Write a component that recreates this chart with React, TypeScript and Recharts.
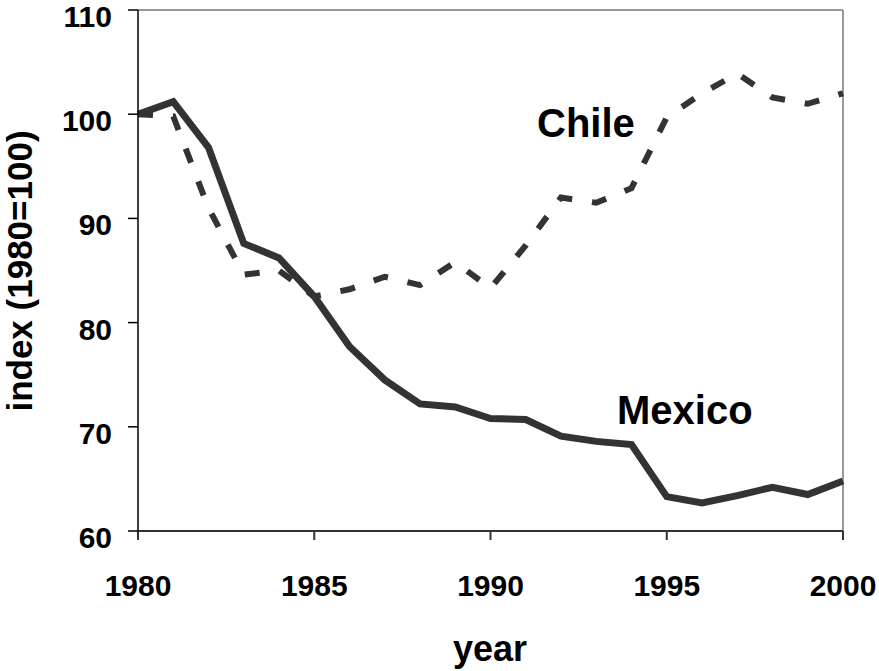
import { LineChart, Line, XAxis, YAxis, ReferenceLine, Customized } from 'recharts'

const years = [
  1980, 1981, 1982, 1983, 1984, 1985, 1986, 1987, 1988, 1989, 1990,
  1991, 1992, 1993, 1994, 1995, 1996, 1997, 1998, 1999, 2000,
]
const mexico = [
  100, 101.2, 96.8, 87.6, 86.2, 82.5, 77.7, 74.5, 72.2, 71.9, 70.8,
  70.7, 69.1, 68.6, 68.3, 63.3, 62.7, 63.4, 64.2, 63.5, 64.8,
]
const chile = [
  100, 99.8, 91.0, 84.6, 85.0, 82.5, 83.2, 84.4, 83.6, 85.8, 83.3,
  87.4, 92.0, 91.5, 92.9, 99.7, 102.0, 103.9, 101.6, 101.0, 102.0,
]
const xTicks = [1980, 1985, 1990, 1995, 2000]
const yTicks = [60, 70, 80, 90, 100, 110]

const FONT = '"Liberation Sans", Arial, Helvetica, sans-serif'

const data = years.map((year, i) => ({ year, mexico: mexico[i], chile: chile[i] }))

const XTick = (props: any) => {
  const { x, payload } = props
  return (
    <text x={x} y={596} textAnchor="middle" fontFamily={FONT} fontWeight="bold" fontSize={30} fill="#000">
      {payload.value}
    </text>
  )
}

const YTick = (props: any) => {
  const { x, y, payload } = props
  return (
    <text x={x} y={y + 17} textAnchor="end" fontFamily={FONT} fontWeight="bold" fontSize={30} fill="#000">
      {payload.value}
    </text>
  )
}

const Annotations = () => (
  <g fontFamily={FONT} fontWeight="bold" fill="#000">
    <text x={537} y={137} fontSize={40}>Chile</text>
    <text x={617} y={424} fontSize={40}>Mexico</text>
    <text x={490} y={661} fontSize={36} textAnchor="middle">year</text>
    <text x={32} y={271} fontSize={35} textAnchor="middle" transform="rotate(-90 32 271)">
      index (1980=100)
    </text>
  </g>
)

export default function App() {
  return (
    <div style={{ position: 'absolute', left: 0, top: 0, background: '#fff' }}>
      <LineChart width={879} height={671} data={data} margin={{ top: 10, right: 36, bottom: 0, left: 0 }}>
        <XAxis
          dataKey="year"
          type="number"
          domain={[1980, 2000]}
          ticks={xTicks}
          height={140}
          tickSize={9}
          stroke="#333"
          strokeWidth={2}
          tick={<XTick />}
        />
        <YAxis
          domain={[60, 110]}
          ticks={yTicks}
          width={138}
          tickSize={10}
          tickMargin={16}
          stroke="#000"
          strokeWidth={1.5}
          tick={<YTick />}
        />
        <ReferenceLine y={110} stroke="#999" strokeWidth={2} />
        <ReferenceLine x={2000} stroke="#999" strokeWidth={2} />
        <Line
          type="linear"
          dataKey="chile"
          stroke="#333"
          strokeWidth={6}
          strokeDasharray="15 20"
          dot={false}
          isAnimationActive={false}
        />
        <Line
          type="linear"
          dataKey="mexico"
          stroke="#333"
          strokeWidth={7}
          dot={false}
          isAnimationActive={false}
        />
        <Customized component={Annotations} />
      </LineChart>
    </div>
  )
}
